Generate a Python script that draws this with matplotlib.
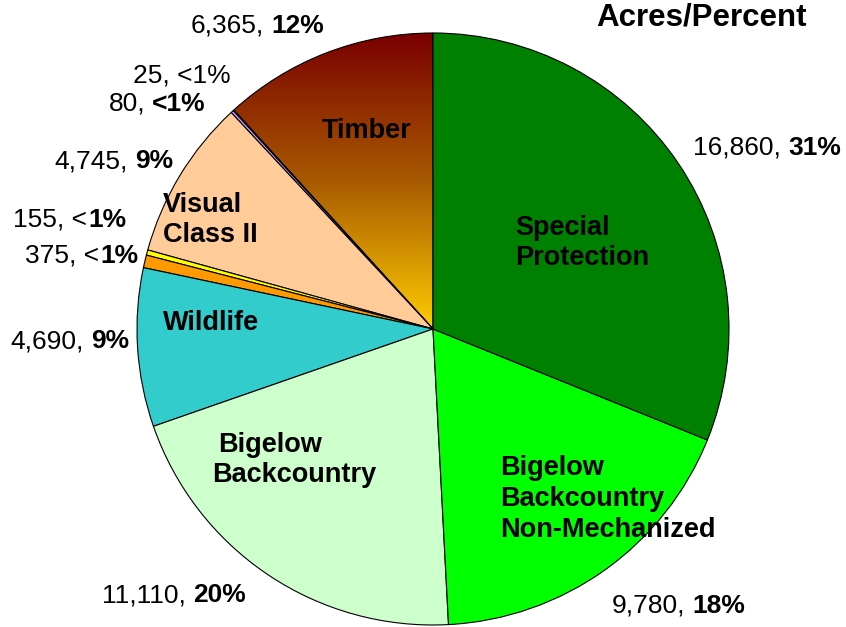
import numpy as np
import matplotlib.pyplot as plt
from matplotlib.colors import LinearSegmentedColormap

plt.rcParams['font.family'] = ['Liberation Sans', 'DejaVu Sans']

# slices, counterclockwise from 12 o'clock
zones = ['Timber', '', '', 'Visual Class II', '', '', 'Wildlife',
         'Bigelow Backcountry', 'Bigelow Backcountry Non-Mechanized', 'Special Protection']
acres = [6365, 25, 80, 4745, 155, 375, 4690, 11110, 9780, 16860]
plain_part = ['6,365,', '25, <1%', '80,', '4,745,', '155, <', '375, <', '4,690,', '11,110,', '9,780,', '16,860,']
bold_part = ['12%', '', '<1%', '9%', '1%', '1%', '9%', '20%', '18%', '31%']
colors = ['none', '#9966CC', '#CC99FF', '#FFCC99', '#FFFF00', '#FF9900',
          '#33CCCC', '#CCFFCC', '#00FF00', '#008000']

W, H = 846, 627
fig = plt.figure(figsize=(8.46, 6.27), dpi=100)
ax = fig.add_axes([0, 0, 1, 1])

cx, cy, r = 433, H - 329, 296
wedges, _ = ax.pie(acres, colors=colors, startangle=90, counterclock=True,
                   center=(cx, cy), radius=r,
                   wedgeprops=dict(edgecolor='black', linewidth=0.8))

# timber gets a vertical gradient, dark red at the top to gold at the centre
timber_cmap = LinearSegmentedColormap.from_list('timber', ['#7A0000', '#A85A00', '#FFCC00'])
grad = np.linspace(0, 1, 256).reshape(-1, 1)
img = ax.imshow(grad, cmap=timber_cmap, aspect='auto', origin='upper',
                extent=[cx - r, cx, cy, cy + r], zorder=0.5)
img.set_clip_path(wedges[0])

ax.set_xlim(0, W)
ax.set_ylim(0, H)
ax.axis('off')

fs = 19
# outside labels: x where bold part starts, baseline y (pixels from top), gap before bold part
label_pos = [(271, 33, 7), (231, 83, 0), (152, 111, 7), (135, 168, 7), (88, 227, 1),
             (100, 263, 1), (91, 348, 7), (193, 602, 7), (692, 613, 7), (788, 155, 7)]
for (x, y, gap), p, b in zip(label_pos, plain_part, bold_part):
    if b:
        ax.text(x - gap, H - y, p, ha='right', va='baseline', fontsize=fs)
        ax.text(x, H - y, b, ha='left', va='baseline', fontsize=fs, fontweight='bold')
    else:
        ax.text(x, H - y, p, ha='right', va='baseline', fontsize=fs)

# inside labels, one text per line
inner = [('Timber', 322, 138),
         ('Visual', 163, 212), ('Class II', 163, 242),
         ('Wildlife', 163, 330),
         ('Special', 515, 235), ('Protection', 515, 265),
         ('Bigelow', 218, 452), ('Backcountry', 212, 482),
         ('Bigelow', 500, 475), ('Backcountry', 500, 506), ('Non-Mechanized', 500, 537)]
for t, x, y in inner:
    ax.text(x, H - y, t, ha='left', va='baseline', fontsize=19.5, fontweight='bold')

ax.text(701, H - 25, 'Acres/Percent', ha='center', va='baseline', fontsize=22.5, fontweight='bold')

fig.savefig('out.png', dpi=100)
